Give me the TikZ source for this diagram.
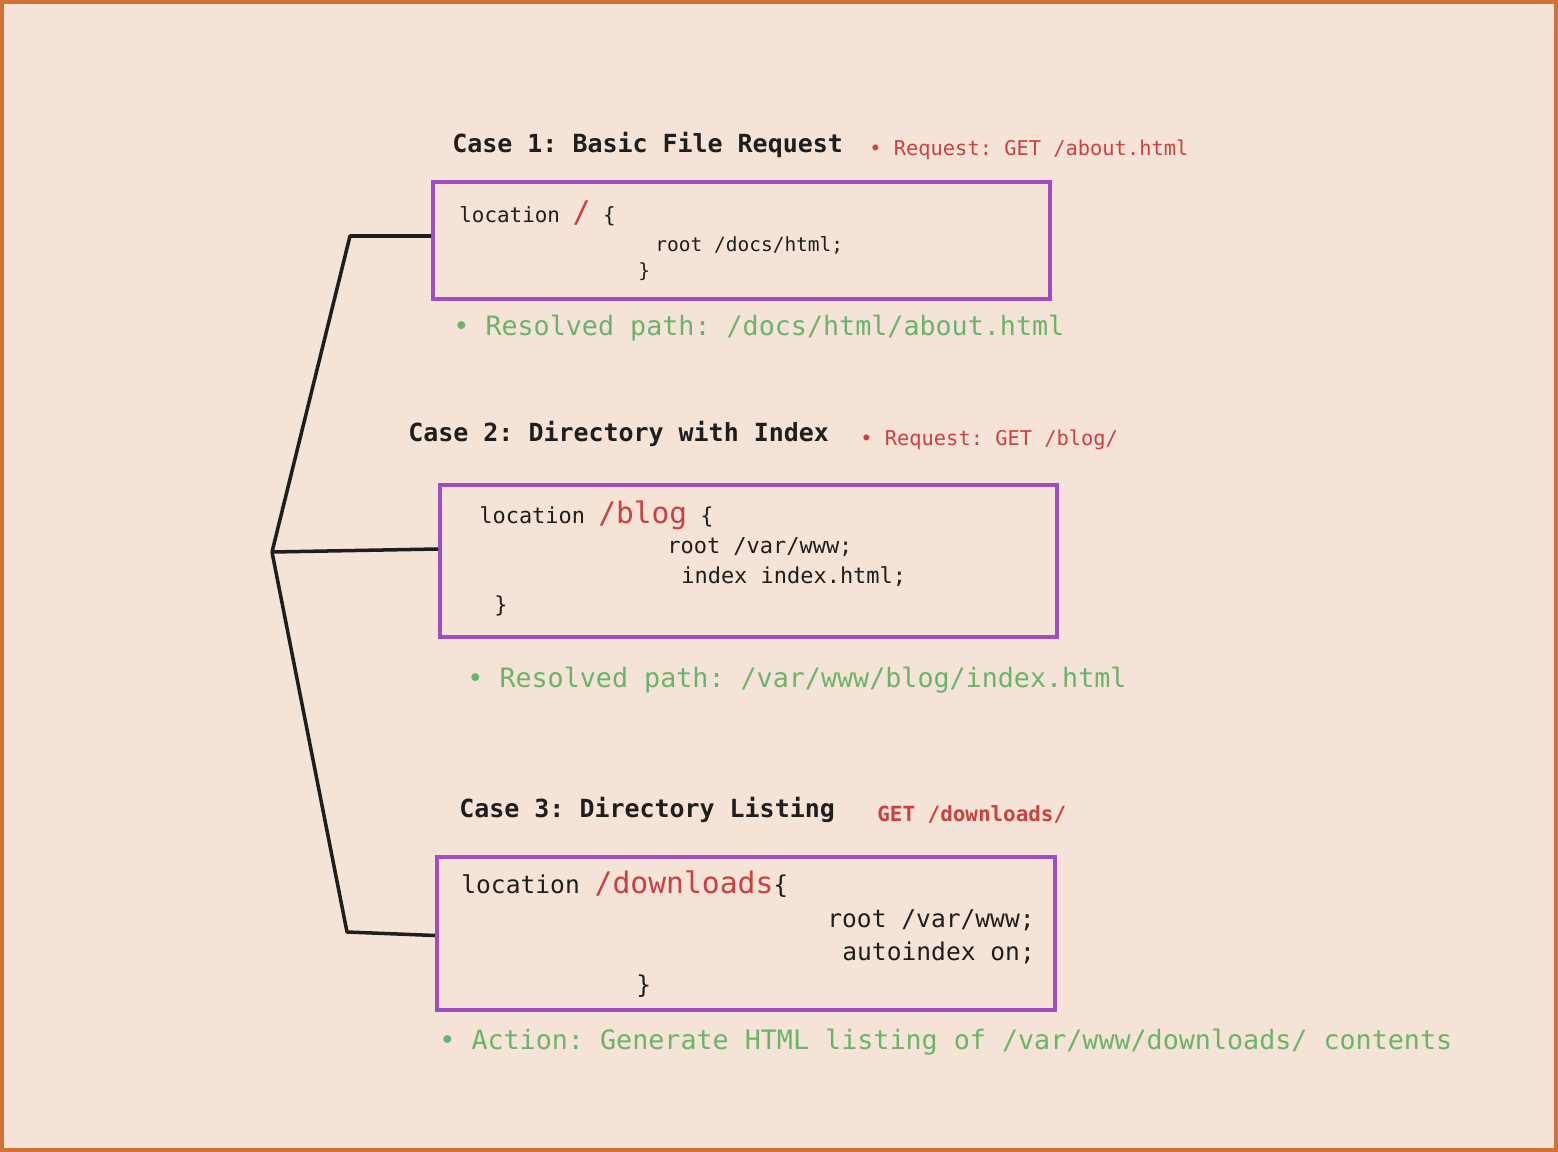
\documentclass[tikz,border=0pt]{standalone}
\usepackage{fontspec}
\setmonofont{DejaVu Sans Mono}
\usepackage{tikz}
\usetikzlibrary{calc, positioning}
\definecolor{sketchpaper}{HTML}{F5E3D8}
\definecolor{sketchframe}{HTML}{D4703A}
\definecolor{sketchpurple}{HTML}{A04CC4}
\definecolor{sketchred}{HTML}{CC4040}
\definecolor{sketchgreen}{HTML}{6AB46A}
\definecolor{sketchink}{HTML}{1E1E1E}
\newcommand{\codesize}[1]{\fontsize{#1}{#1}\selectfont}

\begin{document}
\begin{tikzpicture}[
x=0.02cm, y=-0.02cm,
texts/.style = {text=sketchink, inner sep=0pt, anchor=mid west, yshift=-3pt},
casetexts/.style = {texts, font=\ttfamily\bfseries\codesize{14.2}},
reqtexts/.style = {texts, text=sketchred, font=\ttfamily\codesize{11.6}},
pathtexts/.style = {texts, text=sketchgreen, font=\ttfamily\codesize{15.2}},
codetexts/.style = {texts, font=\ttfamily\codesize{#1}},
locbox/.style = {draw=sketchpurple, line width=2.3pt, inner sep=0pt},
treeline/.style = {draw=sketchink, line width=2pt, line join=round}
]
\useasboundingbox (0,0) rectangle (1558,1152);
\fill[sketchpaper] (0,0) rectangle (1558,1152);
\draw[sketchframe, line width=2.3pt] (2,2) rectangle (1556,1150);

% case 1
\node[casetexts] (title1) at (452,143) {Case 1: Basic File Request};
\node[reqtexts] (req1) at (869,146) {• Request: GET /about.html};
\node[locbox, minimum width=12.34cm, minimum height=2.34cm] (box1) at (741.5,240.5) {};
\node[codetexts=11.9] (loc1) at (459,213)
	{location \textcolor{sketchred}{\codesize{17}/} \{};
\node[codetexts=11.1] (root1) at (655,242) {root /docs/html;};
\node[codetexts=11.1] (close1) at (638,268) {\}};
\node[pathtexts] (path1) at (453,326) {• Resolved path: /docs/html/about.html};

% case 2
\node[casetexts] (title2) at (408,432) {Case 2: Directory with Index};
\node[reqtexts] (req2) at (860,436) {• Request: GET /blog/};
\node[locbox, minimum width=12.34cm, minimum height=3.04cm] (box2) at (748.5,561) {};
\node[codetexts=12.5] (loc2) at (479,514)
	{location \textcolor{sketchred}{\codesize{16.8}/blog} \{};
\node[codetexts=12.5] (root2) at (667,544) {root /var/www;};
\node[codetexts=12.5] (index2) at (681,574) {index index.html;};
\node[codetexts=12.5] (close2) at (494,603) {\}};
\node[pathtexts] (path2) at (467,678) {• Resolved path: /var/www/blog/index.html};

% case 3
\node[casetexts] (title3) at (459,808) {Case 3: Directory Listing};
\node[reqtexts, font=\ttfamily\bfseries\codesize{11.9}] (req3) at (877,812) {GET /downloads/};
\node[locbox, minimum width=12.36cm, minimum height=3.06cm] (box3) at (746,933.5) {};
\node[codetexts=14] (loc3) at (461,884)
	{location \textcolor{sketchred}{\codesize{16.9}/downloads}\{};
\node[codetexts=14] (root3) at (827,918) {root /var/www;};
\node[codetexts=14] (auto3) at (842,951) {autoindex on;};
\node[codetexts=14] (close3) at (636,984) {\}};
\node[pathtexts] (path3) at (439,1040) {• Action: Generate HTML listing of /var/www/downloads/ contents};

% tree
\coordinate (hub) at (272,552);
\coordinate (bend1) at (350,236);
\coordinate (bend3) at (347,932);
\draw[treeline] (hub) -- (bend1) -- (bend1 -| box1.west);
\draw[treeline] (hub) -- ($(box2.west)+(0,-12)$);
\draw[treeline] (hub) -- (bend3) -- ($(box3.west)+(0,2)$);
\end{tikzpicture}
\end{document}
